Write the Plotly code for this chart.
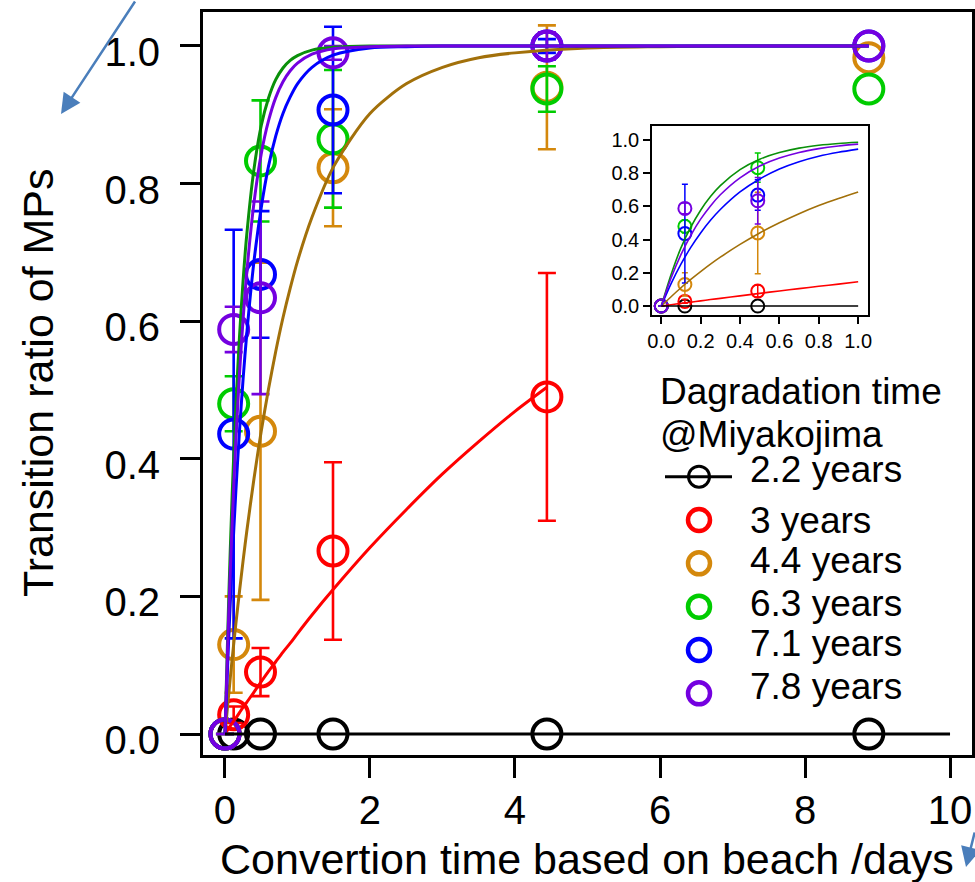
import plotly.graph_objects as go

# ---------------- data ----------------
series_names = ["2.2 years", "3 years", "4.4 years", "6.3 years", "7.1 years", "7.8 years"]
conv_days = [0, 0.12, 0.49, 1.49, 4.44, 8.88]
conv_days_3y = [0, 0.12, 0.49, 1.49, 4.44]

ratio_22 = [0, 0, 0, 0, 0, 0]
ratio_3 = [0, 0.028, 0.09, 0.266, 0.49]
err_3 = [None, 0.012, 0.035, 0.129, 0.18]
ratio_44 = [0, 0.13, 0.44, 0.823, 0.94, 0.983]
err_44 = [None, 0.07, 0.245, 0.085, 0.09]          # no bar at 8.88 days
ratio_63 = [0, 0.48, 0.833, 0.865, 0.9375, 0.9375]
err_63 = [None, 0.04, 0.088, 0.10, 0.033]
ratio_71 = [0, 0.436, 0.668, 0.907, 1.0, 1.0]
err_71 = [None, 0.297, 0.092, 0.121, 0.01]
ratio_78 = [0, 0.588, 0.634, 0.99, 1.0, 1.0]
err_78 = [None, 0.033, 0.14, 0.01, 0.02]

# fitted curves, values
fit_days = [0, 0.05, 0.1, 0.15, 0.2, 0.25, 0.3, 0.4, 0.5, 0.6, 0.7, 0.8, 0.9, 1.0,
            1.2, 1.5, 2.0, 2.5, 3.0, 3.5, 4.0, 5.0, 6.0, 7.0, 8.0, 8.88]
fit_44 = [0, 0.056, 0.110, 0.160, 0.207, 0.252, 0.294, 0.371, 0.440, 0.501, 0.556, 0.605, 0.648, 0.687,
          0.751, 0.825, 0.902, 0.945, 0.969, 0.983, 0.990, 0.997, 0.999, 1.0, 1.0, 1.0]
fit_63 = [0, 0.19, 0.35, 0.475, 0.577, 0.659, 0.725, 0.821, 0.884, 0.924, 0.951, 0.968, 0.979, 0.986,
          0.994, 0.998, 1.0, 1.0, 1.0, 1.0, 1.0, 1.0, 1.0, 1.0, 1.0, 1.0]
fit_71 = [0, 0.135, 0.252, 0.353, 0.440, 0.516, 0.581, 0.687, 0.765, 0.825, 0.869, 0.902, 0.926, 0.945,
          0.969, 0.987, 0.997, 0.999, 1.0, 1.0, 1.0, 1.0, 1.0, 1.0, 1.0, 1.0]
fit_78 = [0, 0.169, 0.309, 0.426, 0.523, 0.603, 0.670, 0.772, 0.843, 0.891, 0.925, 0.948, 0.964, 0.975,
          0.988, 0.996, 0.999, 1.0, 1.0, 1.0, 1.0, 1.0, 1.0, 1.0, 1.0, 1.0]
fit_days_3 = [0, 0.05, 0.1, 0.15, 0.2, 0.25, 0.3, 0.4, 0.5, 0.6, 0.7, 0.8, 0.9, 1.0,
              1.2, 1.5, 2.0, 2.5, 3.0, 3.5, 4.0, 4.44]
fit_3 = [0, 0.008, 0.016, 0.023, 0.031, 0.039, 0.046, 0.061, 0.076, 0.091, 0.105, 0.119, 0.132, 0.146,
         0.173, 0.211, 0.271, 0.326, 0.378, 0.425, 0.469, 0.504]
baseline_days = [0, 10]
baseline_ratio = [0, 0]
inset_baseline_days = [0, 1.0]

x_ticks = [0, 2, 4, 6, 8, 10]
y_ticks = [0.0, 0.2, 0.4, 0.6, 0.8, 1.0]
inset_ticks = [0.0, 0.2, 0.4, 0.6, 0.8, 1.0]

# ---------------- styles ----------------
FONT = "Arial, 'Liberation Sans', sans-serif"
W, H = 975, 882
marker_col = {"2.2 years": "#000000", "3 years": "#FF0000", "4.4 years": "#D4880C",
              "6.3 years": "#00CC00", "7.1 years": "#0000FF", "7.8 years": "#7400E0"}
curve_col = {"3 years": "#FF0000", "4.4 years": "#A2700A", "6.3 years": "#0A900A",
             "7.1 years": "#0000FF", "7.8 years": "#7400E0"}

data_sets = [
    ("2.2 years", conv_days, ratio_22, None),
    ("3 years", conv_days_3y, ratio_3, err_3),
    ("4.4 years", conv_days, ratio_44, err_44),
    ("6.3 years", conv_days, ratio_63, err_63),
    ("7.1 years", conv_days, ratio_71, err_71),
    ("7.8 years", conv_days, ratio_78, err_78),
]
fit_sets = [
    ("3 years", fit_days_3, fit_3),
    ("4.4 years", fit_days, fit_44),
    ("6.3 years", fit_days, fit_63),
    ("7.1 years", fit_days, fit_71),
    ("7.8 years", fit_days, fit_78),
]

fig = go.Figure()

def add_panel(xa, ya, msize, mline, ethick, ewidth, cwidth, xmax):
    for name, xs, ys, es in data_sets:
        col = marker_col[name]
        ey = None
        if es is not None:
            ey = dict(type="data", array=es, color=col, thickness=ethick, width=ewidth)
        fig.add_trace(go.Scatter(
            x=xs, y=ys, mode="markers", name=name, xaxis=xa, yaxis=ya,
            marker=dict(symbol="circle-open", size=msize, color=col, line=dict(width=mline, color=col)),
            error_y=ey, showlegend=False))
    for name, xs, ys in fit_sets:
        px = [v for v in xs if v <= xmax]
        py = ys[:len(px)]
        fig.add_trace(go.Scatter(x=px, y=py, mode="lines", xaxis=xa, yaxis=ya,
                                 line=dict(color=curve_col[name], width=cwidth, shape="spline",
                                           smoothing=0.8),
                                 showlegend=False))

add_panel("x", "y", 29, 4, 2.6, 9, 3, 100)
fig.add_trace(go.Scatter(x=baseline_days, y=baseline_ratio, mode="lines", xaxis="x", yaxis="y",
                         line=dict(color="black", width=3), showlegend=False))
add_panel("x2", "y2", 13, 2, 1.5, 3, 1.6, 1.0)
fig.add_trace(go.Scatter(x=inset_baseline_days, y=baseline_ratio, mode="lines", xaxis="x2", yaxis="y2",
                         line=dict(color="black", width=1.6), showlegend=False))

# ---------------- hand-made legend (helper pixel axis) ----------------
leg_sym_x = 699
leg_sym_y = [476.7, 520, 563.3, 606.7, 650, 693.3]
leg_txt_y = [470, 520, 560, 603, 643, 686.7]
fig.add_trace(go.Scatter(x=[665, 732], y=[leg_sym_y[0]] * 2, mode="lines", xaxis="x3", yaxis="y3",
                         line=dict(color="black", width=3), showlegend=False, hoverinfo="skip"))
for i, name in enumerate(series_names):
    col = marker_col[name]
    fig.add_trace(go.Scatter(x=[leg_sym_x], y=[leg_sym_y[i]], mode="markers", xaxis="x3", yaxis="y3",
                             marker=dict(symbol="circle-open", size=22 if i else 21, color=col,
                                         line=dict(width=4.5 if i else 3, color=col)),
                             showlegend=False, hoverinfo="skip"))

ann = []
ann.append(dict(text="Dagradation time", x=658 / W, y=1 - 391 / H, xref="paper", yref="paper",
                xanchor="left", yanchor="middle", showarrow=False, font=dict(size=37, color="black")))
ann.append(dict(text="@Miyakojima", x=658 / W, y=1 - 434 / H, xref="paper", yref="paper",
                xanchor="left", yanchor="middle", showarrow=False, font=dict(size=37, color="black")))
for i, name in enumerate(series_names):
    ann.append(dict(text=name, x=748 / W, y=1 - leg_txt_y[i] / H, xref="paper", yref="paper",
                    xanchor="left", yanchor="middle", showarrow=False, font=dict(size=37, color="black")))
# axis titles
ann.append(dict(text="Transition ratio of MPs", x=38 / W, y=1 - 383 / H, xref="paper", yref="paper",
                xanchor="center", yanchor="middle", textangle=-90, showarrow=False,
                font=dict(size=43, color="black")))
ann.append(dict(text="Convertion time based on beach /days", x=587 / W, y=1 - 859 / H, xref="paper",
                yref="paper", xanchor="center", yanchor="middle", showarrow=False,
                font=dict(size=43, color="black")))
# blue pointer arrows
ann.append(dict(text="", x=61 / W, y=1 - 114 / H, xref="paper", yref="paper", showarrow=True,
                ax=75, ay=-120, axref="pixel", ayref="pixel", arrowhead=2, arrowsize=1.6,
                arrowwidth=2.5, arrowcolor="#4A7EBB"))
ann.append(dict(text="", x=966 / W, y=1 - 867 / H, xref="paper", yref="paper", showarrow=True,
                ax=60, ay=-36, axref="pixel", ayref="pixel", arrowhead=2, arrowsize=1.6,
                arrowwidth=2.5, arrowcolor="#4A7EBB"))

axis_common = dict(showgrid=False, zeroline=False, mirror=True, linecolor="black", ticks="outside",
                   tickcolor="black", showline=True)

fig.update_layout(
    template="none",
    width=W, height=H, margin=dict(l=0, r=0, t=0, b=0),
    paper_bgcolor="white", plot_bgcolor="rgba(0,0,0,0)",
    font=dict(family=FONT, color="black"),
    showlegend=False,
    annotations=ann,
    xaxis=dict(domain=[203 / W, 972 / W], range=[-0.303, 10.303], tickvals=x_ticks,
               ticklen=20, tickwidth=3, linewidth=3, tickfont=dict(size=40),
               ticklabelstandoff=-2, anchor="y", **axis_common),
    yaxis=dict(domain=[1 - 755 / H, 1 - 12 / H], range=[-0.0305, 1.0494], tickvals=y_ticks,
               tickformat=".1f", ticklen=20, tickwidth=3, linewidth=3, tickfont=dict(size=40),
               ticklabelstandoff=12, ticklabelshift=6, anchor="x", **axis_common),
    xaxis2=dict(domain=[652 / W, 868 / W], range=[-0.047, 1.05], tickvals=inset_ticks, tickformat=".1f",
                ticklen=7, tickwidth=1.5, linewidth=1.5, tickfont=dict(size=20), anchor="y2",
                **axis_common),
    yaxis2=dict(domain=[1 - 315 / H, 1 - 126 / H], range=[-0.054, 1.084], tickvals=inset_ticks,
                tickformat=".1f", ticklen=7, tickwidth=1.5, linewidth=1.5, tickfont=dict(size=20),
                anchor="x2", **axis_common),
    xaxis3=dict(domain=[0, 1], range=[0, W], visible=False, fixedrange=True, anchor="y3"),
    yaxis3=dict(domain=[0, 1], range=[H, 0], visible=False, fixedrange=True, anchor="x3"),
)

fig.write_html("out.html", config={"displayModeBar": False},
               post_script="document.body.style.margin='0px';document.body.style.overflow='hidden';")
